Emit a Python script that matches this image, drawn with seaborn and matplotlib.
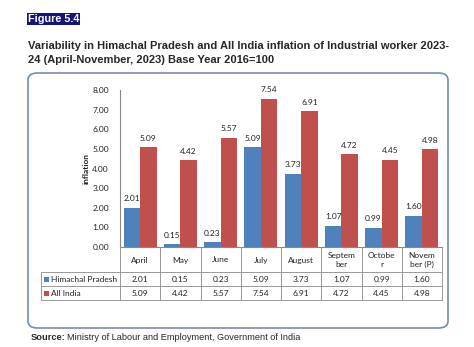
import matplotlib
matplotlib.use("Agg")
import matplotlib.pyplot as plt
from matplotlib.patches import FancyBboxPatch, Rectangle
from matplotlib.lines import Line2D
import seaborn as sns
import pandas as pd
import numpy as np

months = ["April", "May", "June", "July", "August", "Septem\nber", "Octobe\nr", "Novem\nber (P)"]
series_names = ["Himachal Pradesh", "All India"]
hp_values = [2.01, 0.15, 0.23, 5.09, 3.73, 1.07, 0.99, 1.60]
india_values = [5.09, 4.42, 5.57, 7.54, 6.91, 4.72, 4.45, 4.98]
yticks = [0, 1, 2, 3, 4, 5, 6, 7, 8]
colors = ["#4F81BD", "#C0504D"]

df = pd.DataFrame({
    "month": months * 2,
    "series": [series_names[0]] * len(months) + [series_names[1]] * len(months),
    "value": hp_values + india_values,
})

sns.set_style("white")
W, H = 474, 347
fig = plt.figure(figsize=(W / 100, H / 100), dpi=100)

def fx(px):
    return px / W

def fy(py):
    return 1 - py / H

chart_font = "Lato"
title_font = "Liberation Sans"
fs = 6.0

# Rounded frame
frame = FancyBboxPatch((fx(28), fy(328)), fx(448) - fx(28), fy(73) - fy(328),
                       boxstyle="round,pad=0,rounding_size=0.02",
                       transform=fig.transFigure, facecolor="none",
                       edgecolor="#6E8DBF", linewidth=1.2, zorder=5)
fig.add_artist(frame)

# Figure label
fig.patches.append(Rectangle((fx(27), fy(25)), fx(80) - fx(27), fy(13) - fy(25),
                             transform=fig.transFigure, facecolor="#14147A", edgecolor="none"))
fig.text(fx(27.5), fy(19), "Figure 5.4", color="white", fontweight="bold",
         fontsize=7.8, family=title_font, va="center", ha="left")

fig.text(fx(28), fy(46), "Variability in Himachal Pradesh and All India inflation of Industrial worker 2023-",
         fontweight="bold", fontsize=8.05, family=title_font, va="center", ha="left")
fig.text(fx(28), fy(60), "24 (April-November, 2023) Base Year 2016=100",
         fontweight="bold", fontsize=8.05, family=title_font, va="center", ha="left")

fig.text(fx(31), fy(337), "Source:", fontweight="bold", fontsize=6.7,
         family=title_font, va="center", ha="left")
fig.text(fx(67), fy(337), "Ministry of Labour and Employment, Government of India", fontsize=6.6,
         family=title_font, va="center", ha="left")

# Axes
ax_left, ax_right, ax_top, ax_bottom = 120, 442, 90, 247
ax = fig.add_axes([fx(ax_left), fy(ax_bottom), fx(ax_right) - fx(ax_left), fy(ax_top) - fy(ax_bottom)])
sns.barplot(data=df, x="month", y="value", hue="series", palette=colors,
            width=0.82, gap=0, saturation=1, ax=ax, legend=False, edgecolor="none")
ax.set_ylim(0, 8)
ax.set_xlim(-0.5, len(months) - 0.5)
ax.set_yticks(yticks)
ax.set_yticklabels([f"{v:.2f}" for v in yticks], fontsize=fs, family=chart_font, color="#222222")
ax.set_xticks([])
ax.set_xlabel("")
ax.set_ylabel("inflation", fontsize=fs, family=chart_font, color="#222222",
              labelpad=2, fontweight="bold")
ax.tick_params(axis="y", length=0, pad=8)
for s in ["top", "right"]:
    ax.spines[s].set_visible(False)
ax.spines["left"].set_color("#888888")
ax.spines["bottom"].set_color("#888888")
ax.spines["left"].set_linewidth(0.8)
ax.spines["bottom"].set_linewidth(0.8)

for cont in ax.containers:
    ax.bar_label(cont, fmt="%.2f", fontsize=fs, family=chart_font, padding=4, color="#222222")

# Data table
line_col = "#999999"
n = len(months)
colw = (ax_right - ax_left) / n
legend_left = 41
rows_y = [247, 272, 286, 300]
xs = [ax_left + i * colw for i in range(n + 1)]
lines = []
for x in xs:
    lines.append(((x, rows_y[0]), (x, rows_y[3])))
lines.append(((legend_left, rows_y[1]), (legend_left, rows_y[3])))
for y in rows_y[1:]:
    lines.append(((legend_left, y), (ax_right, y)))
for (x0, y0), (x1, y1) in lines:
    fig.add_artist(Line2D([fx(x0), fx(x1)], [fy(y0), fy(y1)], transform=fig.transFigure,
                          color=line_col, linewidth=0.7))

for i, m in enumerate(months):
    fig.text(fx(xs[i] + colw / 2), fy((rows_y[0] + rows_y[1]) / 2 + 0.5), m, ha="center", va="center",
             fontsize=fs, family=chart_font, color="#222222", linespacing=1.4)
for r, (name, vals) in enumerate(zip(series_names, [hp_values, india_values])):
    yc = (rows_y[r + 1] + rows_y[r + 2]) / 2
    fig.patches.append(Rectangle((fx(legend_left + 3), fy(yc + 2.5)), fx(5) - fx(0), fy(0) - fy(5),
                                 transform=fig.transFigure, facecolor=colors[r], edgecolor="none"))
    fig.text(fx(legend_left + 10), fy(yc), name, ha="left", va="center",
             fontsize=fs, family=chart_font, color="#222222")
    for i, v in enumerate(vals):
        fig.text(fx(xs[i] + colw / 2), fy(yc), f"{v:.2f}", ha="center", va="center",
                 fontsize=fs, family=chart_font, color="#222222")

fig.savefig("out.png", dpi=100)
